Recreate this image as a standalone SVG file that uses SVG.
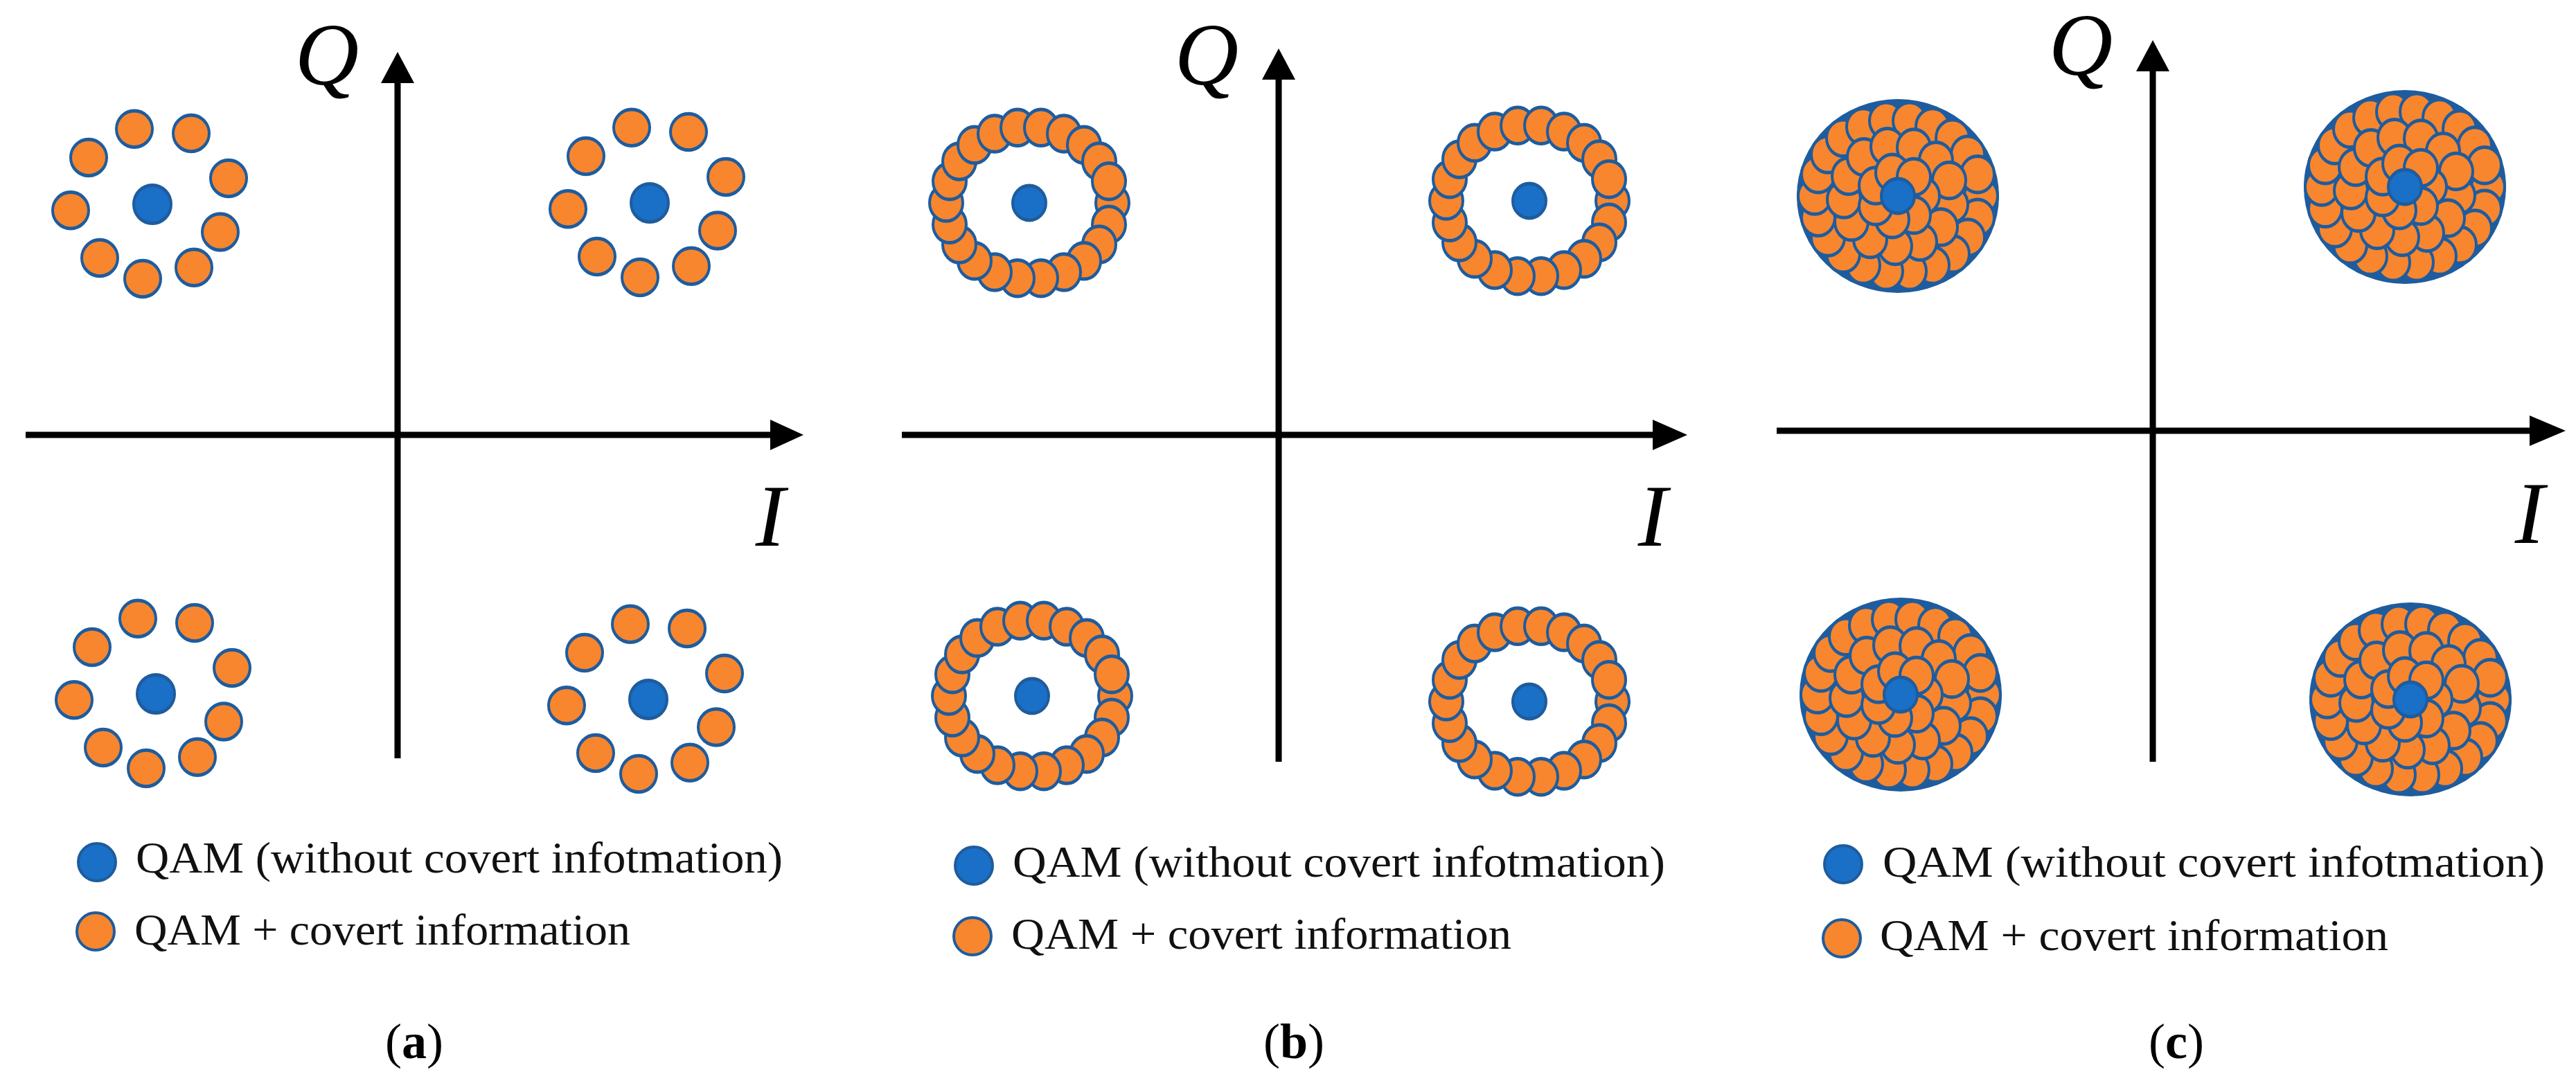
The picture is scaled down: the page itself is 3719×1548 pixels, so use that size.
<svg xmlns="http://www.w3.org/2000/svg" xmlns:xlink="http://www.w3.org/1999/xlink" width="3719" height="1548" viewBox="0 0 3719 1548">
<style>
.o{fill:#F7862E;stroke:#1E5C9E;stroke-width:4}
.b{fill:#1A6FC6;stroke:#1E5C9E;stroke-width:4}
.ax{stroke:#000;stroke-width:9;fill:none}
.ah{fill:#000}
.lab{font-family:"Liberation Serif",serif;font-style:italic;font-size:128px;fill:#000}
.leg{font-family:"Liberation Serif",serif;font-size:64px;fill:#111}
.cap{font-family:"Liberation Serif",serif;font-size:72px;fill:#000}
</style>
<defs>
<g id="cA">
<ellipse class="o" cx="-26" cy="-87" rx="26" ry="21"/><ellipse class="o" cx="56" cy="-82" rx="26" ry="21"/>
<ellipse class="o" cx="-92" cy="-54" rx="26" ry="21"/><ellipse class="o" cx="110" cy="-30" rx="26" ry="21"/>
<ellipse class="o" cx="-118" cy="7" rx="26" ry="21"/><ellipse class="o" cx="98" cy="32" rx="26" ry="21"/>
<ellipse class="o" cx="-76" cy="62" rx="26" ry="21"/><ellipse class="o" cx="-14" cy="86" rx="26" ry="21"/>
<ellipse class="o" cx="60" cy="73" rx="26" ry="21"/>
<ellipse class="b" cx="0" cy="0" rx="27" ry="22"/>
</g>
<g id="ring">
<ellipse class="o" cx="120" cy="0" rx="24" ry="21"/><ellipse class="o" cx="115" cy="25" rx="24" ry="21"/>
<ellipse class="o" cx="101" cy="48" rx="24" ry="21"/><ellipse class="o" cx="79" cy="67" rx="24" ry="21"/>
<ellipse class="o" cx="50" cy="80" rx="24" ry="21"/><ellipse class="o" cx="17" cy="87" rx="24" ry="21"/>
<ellipse class="o" cx="-17" cy="87" rx="24" ry="21"/><ellipse class="o" cx="-50" cy="80" rx="24" ry="21"/>
<ellipse class="o" cx="-79" cy="67" rx="24" ry="21"/><ellipse class="o" cx="-101" cy="48" rx="24" ry="21"/>
<ellipse class="o" cx="-115" cy="25" rx="24" ry="21"/><ellipse class="o" cx="-120" cy="0" rx="24" ry="21"/>
<ellipse class="o" cx="-115" cy="-25" rx="24" ry="21"/><ellipse class="o" cx="-101" cy="-48" rx="24" ry="21"/>
<ellipse class="o" cx="-79" cy="-67" rx="24" ry="21"/><ellipse class="o" cx="-50" cy="-80" rx="24" ry="21"/>
<ellipse class="o" cx="-17" cy="-87" rx="24" ry="21"/><ellipse class="o" cx="17" cy="-87" rx="24" ry="21"/>
<ellipse class="o" cx="50" cy="-80" rx="24" ry="21"/><ellipse class="o" cx="79" cy="-67" rx="24" ry="21"/>
<ellipse class="o" cx="101" cy="-48" rx="24" ry="21"/><ellipse class="o" cx="115" cy="-25" rx="24" ry="21"/>
</g>
<g id="cB">
<use xlink:href="#ring"/>
<ellipse class="b" cx="0" cy="0" rx="24" ry="20"/>
</g>
<g id="cC">
<ellipse cx="0" cy="0" rx="146" ry="112" fill="#1E5C9E"/>
<use xlink:href="#ring"/>
<ellipse class="o" cx="77" cy="10" rx="24" ry="21"/><ellipse class="o" cx="62" cy="36" rx="24" ry="21"/>
<ellipse class="o" cx="32" cy="53" rx="24" ry="21"/><ellipse class="o" cx="-4" cy="58" rx="24" ry="21"/>
<ellipse class="o" cx="-40" cy="50" rx="24" ry="21"/><ellipse class="o" cx="-67" cy="30" rx="24" ry="21"/>
<ellipse class="o" cx="-78" cy="4" rx="24" ry="21"/><ellipse class="o" cx="-71" cy="-23" rx="24" ry="21"/>
<ellipse class="o" cx="-49" cy="-45" rx="24" ry="21"/><ellipse class="o" cx="-15" cy="-57" rx="24" ry="21"/>
<ellipse class="o" cx="23" cy="-56" rx="24" ry="21"/><ellipse class="o" cx="55" cy="-41" rx="24" ry="21"/>
<ellipse class="o" cx="74" cy="-18" rx="24" ry="21"/>
<ellipse class="o" cx="36" cy="0" rx="24" ry="21"/><ellipse class="o" cx="23" cy="22" rx="24" ry="21"/>
<ellipse class="o" cx="-8" cy="27" rx="24" ry="21"/><ellipse class="o" cx="-32" cy="12" rx="24" ry="21"/>
<ellipse class="o" cx="-32" cy="-12" rx="24" ry="21"/><ellipse class="o" cx="-8" cy="-27" rx="24" ry="21"/>
<ellipse class="o" cx="23" cy="-22" rx="24" ry="21"/>
<ellipse class="b" cx="0" cy="0" rx="24" ry="20"/>
</g>
</defs>
<rect width="3719" height="1548" fill="#fff"/>
<g id="connectors">
<line class="ax" x1="37" y1="628" x2="1118" y2="628"/><polygon class="ah" points="1112,606 1160,628 1112,650"/>
<line class="ax" x1="574" y1="1095" x2="574" y2="115"/><polygon class="ah" points="550,120 574,75 598,120"/>
<line class="ax" x1="1302" y1="628" x2="2392" y2="628"/><polygon class="ah" points="2386,606 2436,628 2386,650"/>
<line class="ax" x1="1846" y1="1100" x2="1846" y2="110"/><polygon class="ah" points="1822,115 1846,70 1870,115"/>
<line class="ax" x1="2565" y1="622" x2="3658" y2="622"/><polygon class="ah" points="3652,600 3704,622 3652,644"/>
<line class="ax" x1="3108" y1="1100" x2="3108" y2="98"/><polygon class="ah" points="3084,103 3108,58 3132,103"/>
</g>
<g id="panel-a">
<text class="lab" x="472" y="122" text-anchor="middle">Q</text>
<text class="lab" x="1112" y="788" text-anchor="middle">I</text>
<use xlink:href="#cA" transform="translate(220,295) scale(1,1.25)"/><use xlink:href="#cA" transform="translate(938,293) scale(1,1.25)"/>
<use xlink:href="#cA" transform="translate(225,1002) scale(1,1.25)"/><use xlink:href="#cA" transform="translate(936,1010) scale(1,1.25)"/>
<ellipse class="b" cx="140" cy="1245" rx="27" ry="27"/>
<text class="leg" x="196" y="1260" textLength="934" lengthAdjust="spacingAndGlyphs">QAM (without covert infotmation)</text>
<ellipse class="o" cx="138" cy="1345" rx="27" ry="27"/>
<text class="leg" x="194" y="1364" textLength="716" lengthAdjust="spacingAndGlyphs">QAM + covert information</text>
<text class="cap" x="598" y="1528" text-anchor="middle">(<tspan font-weight="bold">a</tspan>)</text>
</g>
<g id="panel-b">
<text class="lab" x="1742" y="122" text-anchor="middle">Q</text>
<text class="lab" x="2386" y="788" text-anchor="middle">I</text>
<use xlink:href="#cB" transform="translate(1486,293) scale(1,1.25)"/><use xlink:href="#cB" transform="translate(2208,290) scale(1,1.25)"/>
<use xlink:href="#cB" transform="translate(1490,1005) scale(1,1.25)"/><use xlink:href="#cB" transform="translate(2208,1013) scale(1,1.25)"/>
<ellipse class="b" cx="1406" cy="1250" rx="27" ry="27"/>
<text class="leg" x="1462" y="1266" textLength="942" lengthAdjust="spacingAndGlyphs">QAM (without covert infotmation)</text>
<ellipse class="o" cx="1404" cy="1352" rx="27" ry="27"/>
<text class="leg" x="1460" y="1370" textLength="722" lengthAdjust="spacingAndGlyphs">QAM + covert information</text>
<text class="cap" x="1868" y="1528" text-anchor="middle">(<tspan font-weight="bold">b</tspan>)</text>
</g>
<g id="panel-c">
<text class="lab" x="3004" y="108" text-anchor="middle">Q</text>
<text class="lab" x="3652" y="784" text-anchor="middle">I</text>
<use xlink:href="#cC" transform="translate(2740,283) scale(1,1.25)"/><use xlink:href="#cC" transform="translate(3472,270) scale(1,1.25)"/>
<use xlink:href="#cC" transform="translate(2744,1003) scale(1,1.25)"/><use xlink:href="#cC" transform="translate(3480,1010) scale(1,1.25)"/>
<ellipse class="b" cx="2661" cy="1248" rx="27" ry="27"/>
<text class="leg" x="2718" y="1266" textLength="956" lengthAdjust="spacingAndGlyphs">QAM (without covert infotmation)</text>
<ellipse class="o" cx="2659" cy="1355" rx="27" ry="27"/>
<text class="leg" x="2714" y="1372" textLength="734" lengthAdjust="spacingAndGlyphs">QAM + covert information</text>
<text class="cap" x="3142" y="1528" text-anchor="middle">(<tspan font-weight="bold">c</tspan>)</text>
</g>
</svg>
